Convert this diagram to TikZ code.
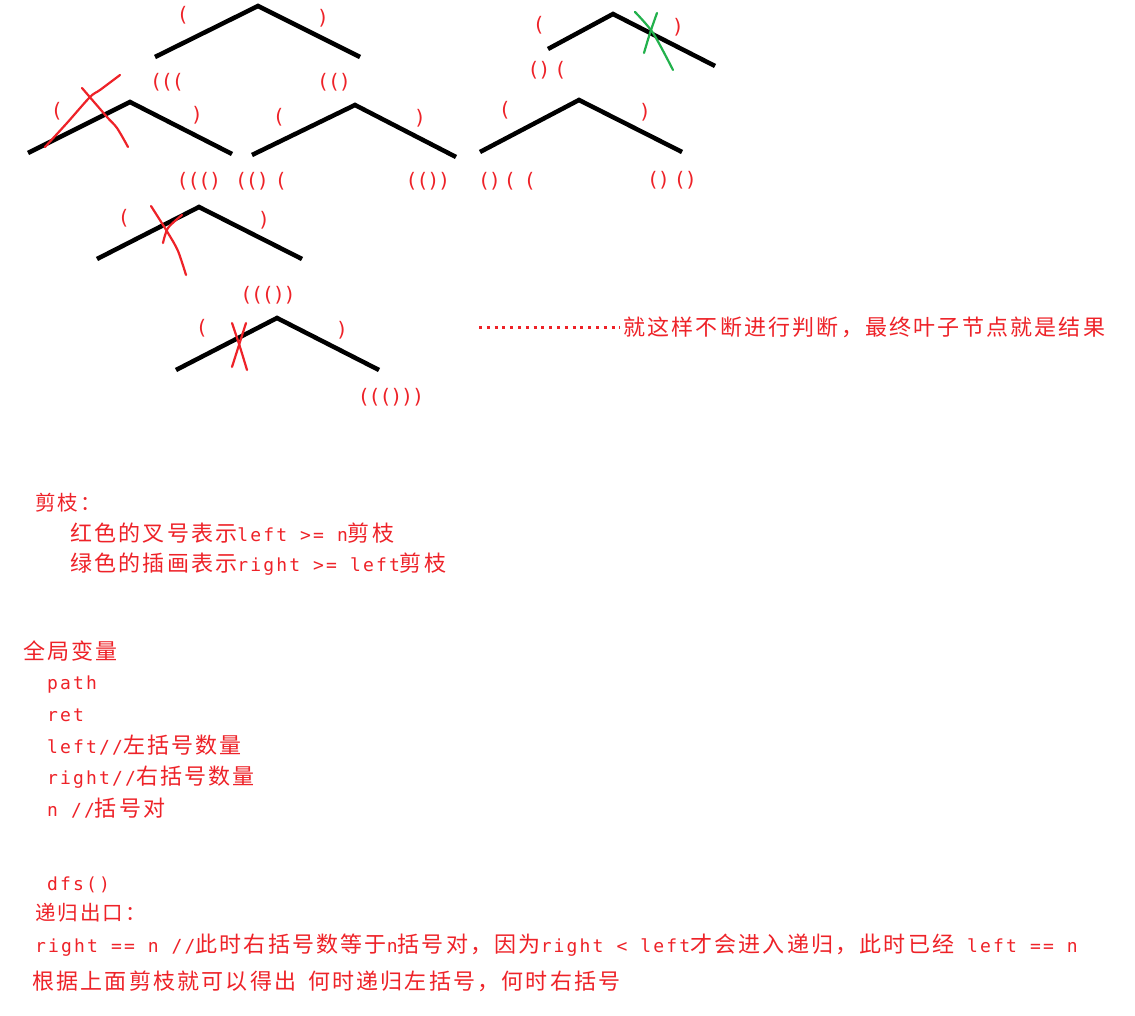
\documentclass[tikz,border=0pt]{standalone}
\usepackage{fontspec}
\newfontfamily\cjfont[LetterSpace=10]{Noto Sans CJK SC}
\newfontfamily\mnfont[LetterSpace=12]{DejaVu Sans Mono}
\newfontfamily\pafont[LetterSpace=-6]{DejaVu Sans Mono}
\definecolor{inkred}{RGB}{238,34,40}
\definecolor{inkgreen}{RGB}{34,177,76}
\newcommand\cz[1]{{\cjfont\fontsize{22}{26}\selectfont #1}}
\newcommand\ch[1]{{\cjfont\fontsize{20.5}{24}\selectfont #1}}
\newcommand\lz[1]{{\mnfont\fontsize{18}{21}\selectfont #1}}
\begin{document}
\begin{tikzpicture}[x=1pt,y=-1pt,
  caret/.style={line width=4.5pt, line join=miter},
  pl/.style={text=inkred, font=\pafont\fontsize{20}{22}\selectfont, inner sep=0pt},
  txt/.style={text=inkred, anchor=base west, inner sep=0pt},
  redx/.style={draw=inkred, line width=2.2pt, line cap=round, line join=round},
  grnx/.style={draw=inkgreen, line width=2.2pt, line cap=round, line join=round},
  dots/.style={draw=inkred, line width=3pt, dash pattern=on 3pt off 4.8pt}]
\fill[white] (0,0) rectangle (1135,1016);
\useasboundingbox (0,0) rectangle (1135,1016);

% carets
\coordinate (a1) at (155,57);  \coordinate (a2) at (258,6);   \coordinate (a3) at (360,57);
\coordinate (b1) at (28,153);  \coordinate (b2) at (130,102); \coordinate (b3) at (232,154);
\coordinate (c1) at (252,155); \coordinate (c2) at (355,105); \coordinate (c3) at (456,157);
\coordinate (e1) at (548,49);  \coordinate (e2) at (613,14);  \coordinate (e3) at (715,66);
\coordinate (h1) at (480,152); \coordinate (h2) at (579,100); \coordinate (h3) at (682,152);
\coordinate (k1) at (97,259);  \coordinate (k2) at (199,207); \coordinate (k3) at (302,259);
\coordinate (m1) at (176,370); \coordinate (m2) at (277,318); \coordinate (m3) at (379,370);
\foreach \p in {a,b,c,e,h,k,m}{\draw[caret] (\p1) -- (\p2) -- (\p3);}

% crosses
\draw[redx] plot[smooth] coordinates {(45,147) (67,123) (90,97) (100,90) (120,75)};
\draw[redx] plot[smooth] coordinates {(82,88) (107,117) (117,128) (128,147)};
\draw[redx] plot[smooth] coordinates {(151,206) (168,233) (178,251) (186,275)};
\draw[redx] plot[smooth] coordinates {(182,215) (168,228) (163,243)};
\draw[redx] plot[smooth] coordinates {(232,323) (240,347) (247,370)};
\draw[redx] plot[smooth] coordinates {(246,323) (239,345) (232,367)};
\draw[grnx] plot[smooth] coordinates {(635,12) (653,33) (673,70)};
\draw[grnx] plot[smooth] coordinates {(657,13) (650,33) (644,53)};

% bracket labels
\node[pl] (l1) at (183,15) {(};
\node[pl] (l2) at (323,18) {)};
\node[pl] (l3) at (167,82) {(((};
\node[pl] (l4) at (334,82) {(()};
\node[pl] (l5) at (57,111) {(};
\node[pl] (l6) at (197,115) {)};
\node[pl] (l7) at (279,117) {(};
\node[pl] (l8) at (420,118) {)};
\node[pl] (l9) at (199,181) {((()};
\node[pl] (l10) at (261,181) {(()\hspace{6pt}(};
\node[pl] (l11) at (428,181) {(())};
\node[pl] (l12) at (539,25) {(};
\node[pl] (l13) at (678,27) {)};
\node[pl] (l14) at (547,70) {()\hspace{4pt}(};
\node[pl] (l15) at (505,110) {(};
\node[pl] (l16) at (645,112) {)};
\node[pl] (l17) at (507,181) {()\hspace{3pt}(\hspace{8pt}(};
\node[pl] (l18) at (672,180) {()\hspace{4pt}()};
\node[pl] (l19) at (124,218) {(};
\node[pl] (l20) at (264,220) {)};
\node[pl] (l21) at (268,295) {((())};
\node[pl] (l22) at (202,328) {(};
\node[pl] (l23) at (342,330) {)};
\node[pl] (l24) at (391,397) {((()))};

% result note
\node[txt] (t0) at (623,335) {\cz{就这样不断进行判断，最终叶子节点就是结果}};
\coordinate (d1) at (479,327);
\coordinate (d2) at (620,327);
\draw[dots] (d1) -- (d2);

% pruning
\node[txt] (p0) at (35,510) {\ch{剪枝：}};
\node[txt] (p1) at (70,541) {\cz{红色的叉号表示}\lz{left >= n}\cz{剪枝}};
\node[txt] (p2) at (70,571) {\cz{绿色的插画表示}\lz{right >= left}\cz{剪枝}};

% globals
\node[txt] (g0) at (23,659) {\cz{全局变量}};
\node[txt] (g1) at (47,689) {\lz{path}};
\node[txt] (g2) at (47,721) {\lz{ret}};
\node[txt] (g3) at (47,753) {\lz{left//}\cz{左括号数量}};
\node[txt] (g4) at (47,784) {\lz{right//}\cz{右括号数量}};
\node[txt] (g5) at (47,816) {\lz{n //}\cz{括号对}};

% dfs
\node[txt] (f0) at (47,890) {\lz{dfs()}};
\node[txt] (f1) at (35,920) {\ch{递归出口：}};
\node[txt] (f2) at (35,952) {\lz{right == n //}\cz{此时右括号数等于}\lz{n}\cz{括号对，因为}\lz{right < left}\cz{才会进入递归，此时已经}\lz{\ left == n}};
\node[txt] (f3) at (32,989) {\cz{根据上面剪枝就可以得出}\hspace{12pt}\cz{何时递归左括号，何时右括号}};
\end{tikzpicture}
\end{document}
